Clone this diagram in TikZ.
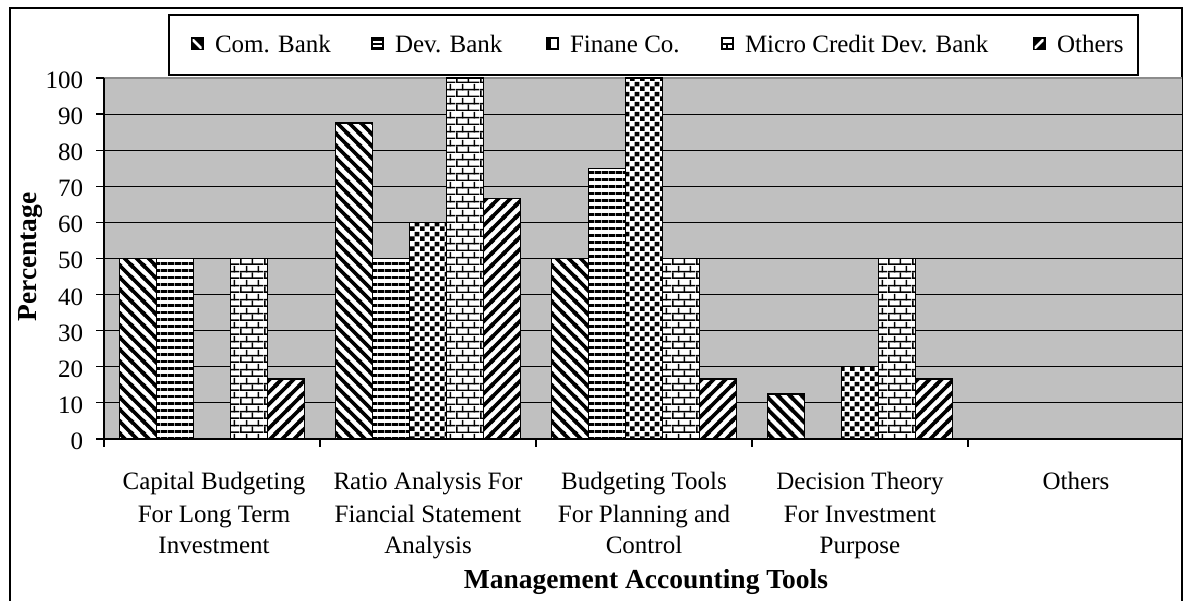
\documentclass[tikz,border=0pt]{standalone}
\usepackage{fontspec}
\setmainfont{Liberation Serif}
\usetikzlibrary{patterns.meta}

\tikzdeclarepattern{name=compat, type=uncolored,
  bounding box={(0pt,0pt) and (12pt,12pt)}, tile size={(12pt,12pt)},
  code={
    \draw[line width=3.8pt] (-2pt,14pt) -- (14pt,-2pt);
    \draw[line width=3.8pt] (-2pt,2pt) -- (2pt,-2pt);
    \draw[line width=3.8pt] (10pt,14pt) -- (14pt,10pt);
  }}
\tikzdeclarepattern{name=othpat, type=uncolored,
  bounding box={(0pt,0pt) and (12pt,12pt)}, tile size={(12pt,12pt)},
  code={
    \draw[line width=3.8pt] (-2pt,-2pt) -- (14pt,14pt);
    \draw[line width=3.8pt] (-2pt,10pt) -- (2pt,14pt);
    \draw[line width=3.8pt] (10pt,-2pt) -- (14pt,2pt);
  }}
\tikzdeclarepattern{name=devpat, type=uncolored,
  bounding box={(0pt,0pt) and (7pt,7pt)}, tile size={(7pt,7pt)},
  code={
    \fill (0pt,0pt) rectangle (7pt,3.4pt);
  }}
\tikzdeclarepattern{name=finpat, type=uncolored,
  bounding box={(0pt,0pt) and (10pt,10pt)}, tile size={(10pt,10pt)},
  code={
    \fill (0pt,0pt) rectangle (5pt,5pt);
    \fill (5pt,5pt) rectangle (10pt,10pt);
  }}
\tikzdeclarepattern{name=micpat, type=uncolored,
  bounding box={(0pt,0pt) and (24pt,14pt)}, tile size={(24pt,14pt)},
  code={
    \fill (0pt,0pt) rectangle (24pt,1.6pt);
    \fill (0pt,7pt) rectangle (24pt,8.6pt);
    \fill (0pt,0pt) rectangle (1.6pt,7pt);
    \fill (12pt,0pt) rectangle (13.6pt,7pt);
    \fill (6pt,7pt) rectangle (7.6pt,14pt);
    \fill (18pt,7pt) rectangle (19.6pt,14pt);
  }}

\begin{document}
\begin{tikzpicture}[x=1pt,y=-1pt,
  every node/.style={inner sep=0pt, outer sep=0pt},
  txt/.style={font=\fontsize{25}{32}\selectfont},
  btxt/.style={font=\fontsize{27.5}{32}\selectfont\bfseries},
  frame/.style={draw=black, line width=2pt},
  gridline/.style={draw=black, line width=1.1pt},
  axisline/.style={draw=black, line width=1.2pt},
  barbox/.style={draw=black, line width=1.4pt, preaction={fill=white}, pattern=#1},
  s0/.style={barbox=compat},
  s1/.style={barbox=devpat},
  s2/.style={barbox=finpat},
  s3/.style={barbox=micpat},
  s4/.style={barbox=othpat},
  icon/.style={draw=black, fill=black, line width=1pt, minimum width=12pt, minimum height=12pt},
  iconmark/.style={white, line width=2.6pt},
]
\useasboundingbox (0,0) rectangle (1187,601);

% outer frame (open at the bottom)
\draw[frame] (10,601) -- (10,8) -- (1182,8) -- (1182,601);

% plot area
\fill[fill={rgb,255:red,192;green,192;blue,192}] (104,78) rectangle (1182,439);
\draw[draw={rgb,255:red,140;green,140;blue,140}, line width=1.2pt] (104,78) -- (1182,78);
\foreach \k in {1,...,9}
  \draw[gridline] (104,{439-36.1*\k}) -- (1182,{439-36.1*\k});

% bars
\foreach \g/\vals in {0/{50,50,0,50,16.67},1/{87.5,50,60,100,66.67},2/{50,75,100,50,16.67},3/{12.5,0,20,50,16.67}} {
  \foreach \v [count=\i from 0] in \vals {
    \ifdim \v pt>0pt
      \draw[s\i] ({104+216*\g+15.5+37*\i},439) rectangle ({104+216*\g+15.5+37*(\i+1)},{439-3.61*\v});
    \fi
  }
}

% axes
\draw[axisline] (104,78) -- (104,447);
\draw[axisline] (104,439) -- (1182,439);
\foreach \k in {0,...,10} {
  \draw[axisline] (96,{439-36.1*\k}) -- (104,{439-36.1*\k});
  \node[txt, anchor=base east] (yl\k) at (83,{439-36.1*\k+10.5}) {\pgfmathparse{int(10*\k)}\pgfmathresult};
}
\foreach \k in {1,...,4}
  \draw[axisline] ({104+216*\k},439) -- ({104+216*\k},447);

% axis titles
\node[btxt, rotate=90] (ytitle) at (31,257) {Percentage};
\node[btxt, anchor=base] (xtitle) at (646,588) {Management Accounting Tools};

% category labels
\node[txt, anchor=base] (c1a) at (214,490) {Capital Budgeting};
\node[txt, anchor=base] (c1b) at (214,522) {For Long Term};
\node[txt, anchor=base] (c1c) at (214,554) {Investment};
\node[txt, anchor=base] (c2a) at (428,490) {Ratio Analysis For};
\node[txt, anchor=base] (c2b) at (428,522) {Fiancial Statement};
\node[txt, anchor=base] (c2c) at (428,554) {Analysis};
\node[txt, anchor=base] (c3a) at (644,490) {Budgeting Tools};
\node[txt, anchor=base] (c3b) at (644,522) {For Planning and};
\node[txt, anchor=base] (c3c) at (644,554) {Control};
\node[txt, anchor=base] (c4a) at (860,490) {Decision Theory};
\node[txt, anchor=base] (c4b) at (860,522) {For Investment};
\node[txt, anchor=base] (c4c) at (860,554) {Purpose};
\node[txt, anchor=base] (c5a) at (1076,490) {Others};

% legend
\draw[draw=black, line width=1.6pt, fill=white] (169,15) rectangle (1138,75);
\node[icon] (li1) at (197,44) {};
\begin{scope}[shift={(li1.center)}]
  \clip (-4.5,-4.5) rectangle (4.5,4.5);
  \draw[iconmark] (-5,-5) -- (5,5);
\end{scope}
\node[txt, anchor=base west] (lt1) at (215,53) {Com. Bank};
\node[icon] (li2) at (377.5,44) {};
\begin{scope}[shift={(li2.center)}]
  \fill[white] (-4.5,-3.2) rectangle (4.5,-1);
  \fill[white] (-4.5,1.2) rectangle (4.5,3.4);
\end{scope}
\node[txt, anchor=base west] (lt2) at (395,53) {Dev. Bank};
\node[icon] (li3) at (552,44) {};
\begin{scope}[shift={(li3.center)}]
  \fill[white] (-1.2,-4.5) rectangle (4.5,4.5);
\end{scope}
\node[txt, anchor=base west] (lt3) at (570,53) {Finane Co.};
\node[icon] (li4) at (727,44) {};
\begin{scope}[shift={(li4.center)}]
  \fill[white] (-4.5,-4.5) rectangle (4.5,-1.2);
  \fill[white] (-4.5,0.8) rectangle (-0.8,4.5);
  \fill[white] (0.8,0.8) rectangle (4.5,4.5);
\end{scope}
\node[txt, anchor=base west] (lt4) at (745,53) {Micro Credit Dev. Bank};
\node[icon] (li5) at (1039,44) {};
\begin{scope}[shift={(li5.center)}]
  \clip (-4.5,-4.5) rectangle (4.5,4.5);
  \draw[iconmark] (-5,5) -- (5,-5);
\end{scope}
\node[txt, anchor=base west] (lt5) at (1057,53) {Others};
\end{tikzpicture}
\end{document}
